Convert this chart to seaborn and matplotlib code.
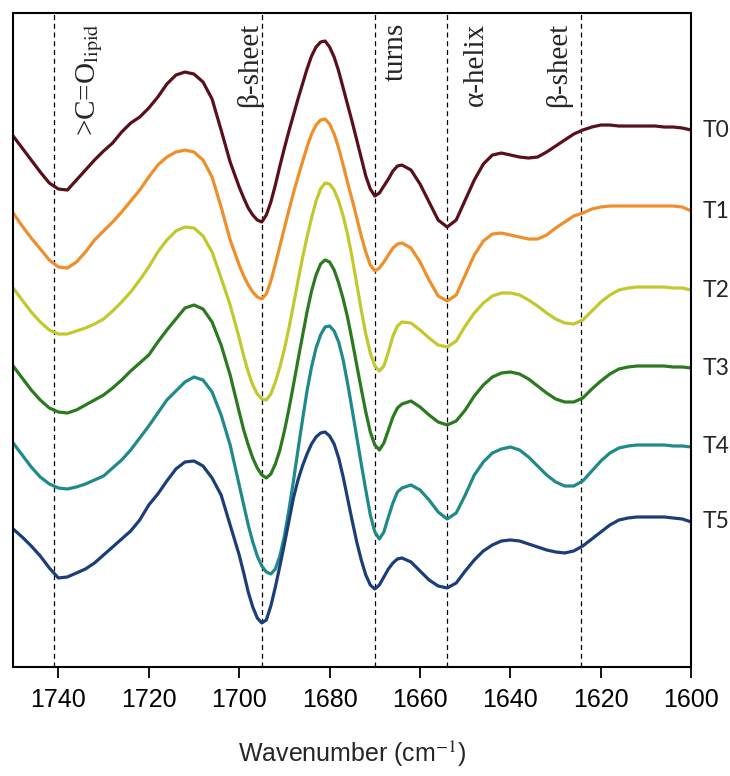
import numpy as np
import pandas as pd
import seaborn as sns
import matplotlib.pyplot as plt
from matplotlib.transforms import blended_transform_factory

# ---------------- data ----------------
# sampling grid (cm-1): 2 cm-1 steps, 1 cm-1 steps across the sharp 1700-1664 bands
wavenumber = (list(range(1750, 1700, -2)) + list(range(1700, 1663, -1))
              + list(range(1662, 1599, -2)))

samples = ["T0", "T1", "T2", "T3", "T4", "T5"]
colors = ["#5a1018", "#ef8f2b", "#c3c82f", "#2b7a1f", "#1f8a8a", "#1b3e7a"]

# offset second-derivative spectra (arbitrary units, larger = lower on the plot)
t0 = [136, 148, 160, 172, 183, 189, 190, 180, 170, 160, 151, 143, 132, 123, 117, 108,
      97, 84, 75, 72, 74, 82, 99, 130, 162,
      187, 198, 208, 215, 220, 222, 215, 202, 185, 166, 148, 131, 115, 99, 84, 69, 56,
      47, 42, 41, 47, 57, 71, 88, 105, 122, 140, 158, 176, 189, 196, 193, 186, 179,
      171, 166, 165,
      170, 184, 202, 220, 227, 220, 200, 180, 164, 155, 153, 155, 157, 158, 157, 152,
      146, 140, 134, 130, 127, 125, 125, 126, 126, 126, 126, 126, 127, 127, 128, 130]
t1 = [213, 226, 238, 249, 260, 267, 268, 262, 252, 240, 231, 222, 212, 201, 190, 177,
      165, 157, 152, 150, 152, 160, 177, 207, 240,
      265, 276, 285, 292, 297, 299, 294, 281, 264, 246, 228, 210, 193, 177, 162, 147,
      134, 125, 120, 119, 124, 134, 148, 165, 183, 200, 218, 236, 252, 265, 271, 268,
      262, 255, 248, 244, 243,
      248, 262, 280, 296, 301, 295, 275, 255, 241, 234, 233, 235, 237, 239, 239, 235,
      228, 222, 216, 213, 209, 207, 206, 206, 206, 206, 206, 206, 206, 206, 207, 211]
t2 = [288, 300, 312, 322, 330, 334, 334, 331, 328, 324, 319, 311, 302, 292, 280, 267,
      252, 240, 231, 227, 228, 236, 252, 278, 305,
      338, 356, 372, 385, 394, 399, 400, 394, 382, 367, 349, 328, 305, 281, 258, 237,
      218, 201, 189, 183, 184, 190, 201, 216, 235, 258, 284, 310, 334, 353, 366, 371,
      366, 352, 336, 326, 322,
      323, 330, 338, 345, 347, 341, 326, 313, 303, 296, 293, 293, 295, 300, 306, 313,
      319, 323, 324, 320, 311, 302, 295, 290, 288, 287, 287, 287, 287, 288, 288, 290]
t3 = [366, 378, 390, 400, 408, 412, 413, 410, 405, 400, 395, 388, 380, 371, 363, 355,
      342, 330, 319, 308, 305, 309, 322, 345, 375,
      412, 430, 445, 458, 468, 475, 478, 474, 464, 450, 431, 409, 385, 360, 336, 312,
      291, 275, 264, 260, 262, 270, 283, 299, 318, 341, 365, 389, 412, 432, 445, 450,
      443, 430, 417, 408, 404,
      401, 407, 415, 422, 425, 421, 410, 396, 385, 377, 373, 372, 374, 379, 386, 393,
      399, 402, 402, 398, 389, 381, 374, 369, 367, 366, 366, 366, 366, 367, 367, 368]
t4 = [443, 455, 467, 477, 484, 488, 489, 487, 484, 480, 476, 468, 460, 450, 438, 426,
      413, 400, 391, 382, 377, 380, 392, 415, 445,
      485, 505, 525, 542, 556, 566, 572, 574, 569, 556, 536, 510, 481, 450, 420, 391,
      367, 348, 335, 327, 326, 331, 342, 360, 384, 410, 437, 464, 490, 515, 532, 539,
      532, 517, 503, 492, 488,
      485, 490, 500, 512, 519, 513, 495, 475, 462, 453, 449, 447, 450, 457, 466, 475,
      482, 486, 486, 481, 471, 461, 453, 448, 446, 445, 445, 445, 445, 446, 446, 447]
t5 = [529, 537, 546, 556, 568, 578, 577, 573, 569, 563, 555, 547, 539, 531, 520, 505,
      494, 481, 469, 462, 461, 466, 478, 495, 525,
      555, 573, 592, 607, 618, 623, 620, 606, 587, 566, 544, 521, 498, 480, 466, 454,
      444, 437, 433, 432, 436, 444, 458, 477, 499, 521, 542, 560, 575, 585, 589, 585,
      577, 569, 563, 559, 558,
      562, 571, 580, 586, 588, 583, 571, 560, 551, 545, 541, 540, 541, 544, 547, 550,
      552, 553, 551, 546, 539, 532, 525, 520, 518, 517, 517, 517, 517, 518, 519, 522]
series = [t0, t1, t2, t3, t4, t5]

band_positions = [1741, 1695, 1670, 1654, 1624.5]
band_labels = [r">C=O$_{\mathrm{lipid}}$", "β-sheet", "turns", "α-helix", "β-sheet"]
band_label_x = [1733.0, 1697.6, 1665.3, 1647.6, 1629.4]

xticks = [1740, 1720, 1700, 1680, 1660, 1640, 1620, 1600]

# ---------------- figure ----------------
sns.set_style("ticks")
plt.rcParams["font.family"] = ["Liberation Sans", "DejaVu Sans"]
plt.rcParams["mathtext.fontset"] = "stix"

df = pd.concat(
    [pd.DataFrame({"wavenumber": wavenumber, "value": vals, "sample": name})
     for name, vals in zip(samples, series)],
    ignore_index=True,
)

fig = plt.figure(figsize=(7.30, 7.76), dpi=100)
ax = fig.add_axes([0.018, 0.1405, 0.929, 0.8427])

sns.lineplot(data=df, x="wavenumber", y="value", hue="sample", palette=colors,
             hue_order=samples, linewidth=2.3, legend=False, sort=False,
             estimator=None, ax=ax, solid_joinstyle="round", solid_capstyle="round")

ax.set_xlim(1750, 1600)
ax.set_ylim(667, 13)

for wn in band_positions:
    ax.axvline(wn, color="black", linestyle=(0, (4, 3)), linewidth=0.9, zorder=0)

for lab, x in zip(band_labels, band_label_x):
    ax.text(x, 0.985, lab, transform=blended_transform_factory(ax.transData, ax.transAxes),
            rotation=90, ha="center", va="top", fontsize=21,
            family=["Liberation Serif", "DejaVu Serif"])

trans = blended_transform_factory(ax.transAxes, ax.transData)
for name, vals in zip(samples, series):
    ax.text(1.016, vals[-1], name, transform=trans, ha="left", va="center",
            fontsize=16.5, family=["Lato", "DejaVu Sans"])

ax.set_xticks(xticks)
ax.set_yticks([])
ax.tick_params(axis="x", direction="out", length=8, width=1.3, labelsize=18, pad=7,
               colors="black")
for sp in ax.spines.values():
    sp.set_visible(True)
    sp.set_color("black")
    sp.set_linewidth(1.5)

ax.set_xlabel("Wavenumber (cm$^{-1}$)", fontsize=18)
ax.xaxis.set_label_coords(0.5, -0.11)
ax.set_ylabel("")

fig.savefig("out.png", dpi=100)
